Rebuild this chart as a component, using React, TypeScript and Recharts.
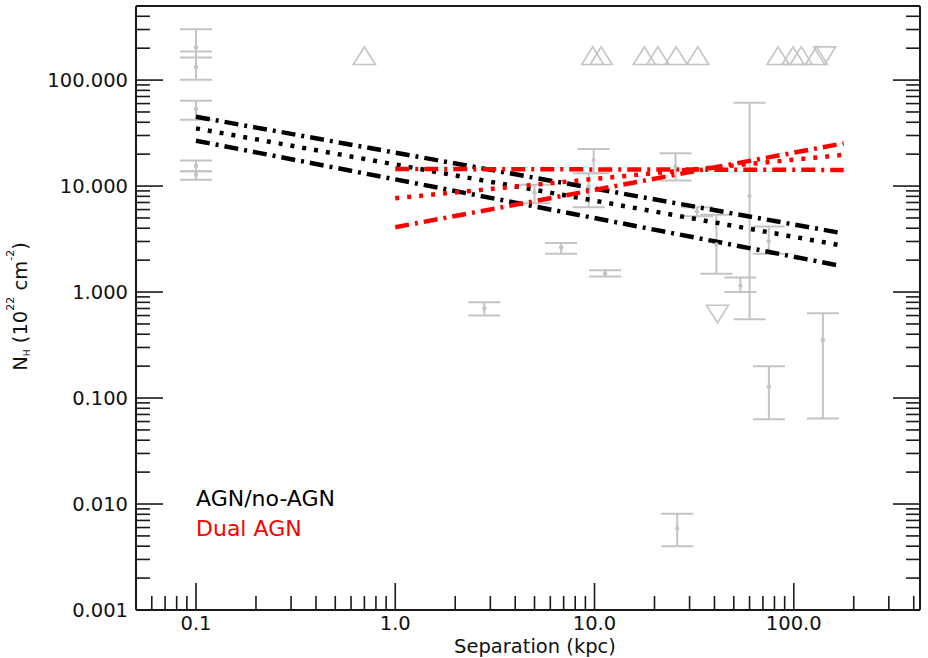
import React from 'react';
import { ComposedChart, XAxis, YAxis, Scatter, Line, ErrorBar } from 'recharts';

const FONT = '"DejaVu Sans", sans-serif';
const GRAY = '#c4c4c4';
const AXIS = '#1a1a1a';

// Measured column densities: separation (kpc), N_H (1e22 cm^-2) and 1-sigma bounds
const detSep = [0.1, 0.1, 0.1, 0.1, 0.1, 2.8, 5.0, 6.8, 9.35, 9.9, 11.3, 25.5, 32.7, 40.9, 54, 60, 74.9, 75, 140, 26];
const detNH = [203, 133, 53.3, 15.5, 12.8, 0.70, 8.75, 2.65, 9.9, 17.6, 1.49, 15.3, 5.75, 2.81, 1.15, 8.08, 3.02, 0.128, 0.351, 0.0059];
const detLo = [163, 100.6, 42.3, 13.8, 11.5, 0.60, 6.9, 2.30, 6.3, 13.2, 1.40, 11.3, 5.2, 1.49, 1.0, 0.555, 2.30, 0.063, 0.064, 0.0040];
const detHi = [302, 186, 63.8, 17.4, 13.8, 0.80, 10.3, 2.90, 13.2, 22.4, 1.61, 20.4, 6.3, 5.35, 1.375, 61.1, 4.16, 0.200, 0.63, 0.0081];

// Lower limits (Compton-thick candidates)
const lowLimSep = [0.70, 9.8, 10.8, 17.8, 20.8, 25.7, 33.0, 83.4, 99.3, 109, 130];
const lowLimNH = [170, 170, 170, 170, 170, 170, 170, 170, 170, 170, 170];

// Upper limits
const upLimSep = [41.4, 143];
const upLimNH = [0.62, 170];

// Power-law fits: best fit and confidence envelope
const agnSep = [0.1, 174];
const agnHigh = [45.1, 3.60];
const agnBest = [35.0, 2.75];
const agnLow = [26.8, 1.76];

const dualSep = [1.0, 178];
const dualEdgeA = [14.5, 14.2];
const dualBest = [7.68, 19.7];
const dualEdgeB = [4.09, 25.3];

// Axis ranges and decade ticks
const xDomain = [0.05, 430];
const yDomain = [0.001, 500];
const xDecades = [0.01, 0.1, 1, 10, 100];
const yDecades = [0.001, 0.01, 0.1, 1, 10, 100];
const mantissas = [1, 2, 3, 4, 5, 6, 7, 8, 9];

const logTicks = (decades: number[], [lo, hi]: number[]) =>
  decades
    .flatMap((d) => mantissas.map((m) => +(m * d).toPrecision(3)))
    .filter((v) => v >= lo - 1e-12 && v <= hi + 1e-12);

const xTicks = logTicks(xDecades, xDomain).filter((v) => v > xDomain[0]);
const yTicks = logTicks(yDecades, yDomain).filter((v) => v < yDomain[1]);

const detData = detSep.map((x, i) => ({ x, y: detNH[i], err: [detNH[i] - detLo[i], detHi[i] - detNH[i]] }));
const lowLimData = lowLimSep.map((x, i) => ({ x, y: lowLimNH[i] }));
const upLimData = upLimSep.map((x, i) => ({ x, y: upLimNH[i] }));
const toLine = (xs: number[], ys: number[]) => xs.map((x, i) => ({ x, y: ys[i] }));

const isMajor = (v: number) => Math.abs(Math.log10(v) - Math.round(Math.log10(v))) < 1e-6;
const MAJ = 27;
const MIN = 14;
const TICK_W = 1.6;
const LABEL_SIZE = 19.5;

const BottomTick = (props: any) => {
  const { x, y, payload } = props;
  const v = payload.value as number;
  const major = isMajor(v);
  return (
    <g>
      <line x1={x} x2={x} y1={y} y2={y - (major ? MAJ : MIN)} stroke={AXIS} strokeWidth={TICK_W} />
      {major && (
        <text x={x} y={y + 20} textAnchor="middle" fontFamily={FONT} fontSize={LABEL_SIZE} fill="#111">
          {v.toFixed(1)}
        </text>
      )}
    </g>
  );
};

const TopTick = (props: any) => {
  const { x, y, payload } = props;
  const major = isMajor(payload.value);
  return <line x1={x} x2={x} y1={y} y2={y + (major ? MAJ : MIN)} stroke={AXIS} strokeWidth={TICK_W} />;
};

const LeftTick = (props: any) => {
  const { x, y, payload } = props;
  const v = payload.value as number;
  const major = isMajor(v);
  return (
    <g>
      <line x1={x} x2={x + (major ? MAJ : MIN)} y1={y} y2={y} stroke={AXIS} strokeWidth={TICK_W} />
      {major && (
        <text x={x - 8} y={y + 7} textAnchor="end" fontFamily={FONT} fontSize={LABEL_SIZE} fill="#111">
          {v.toFixed(3)}
        </text>
      )}
    </g>
  );
};

const RightTick = (props: any) => {
  const { x, y, payload } = props;
  const major = isMajor(payload.value);
  return <line x1={x} x2={x - (major ? MAJ : MIN)} y1={y} y2={y} stroke={AXIS} strokeWidth={TICK_W} />;
};

const Dot = (props: any) => <circle cx={props.cx} cy={props.cy} r={2.2} fill={GRAY} />;

const UpTriangle = (props: any) => {
  const { cx, cy } = props;
  return (
    <path
      d={`M${cx},${cy - 8.8} L${cx + 11},${cy + 8.8} L${cx - 11},${cy + 8.8} Z`}
      fill="none"
      stroke={GRAY}
      strokeWidth={1.6}
    />
  );
};

const DownTriangle = (props: any) => {
  const { cx, cy } = props;
  return (
    <path
      d={`M${cx},${cy + 8.8} L${cx + 11},${cy - 8.8} L${cx - 11},${cy - 8.8} Z`}
      fill="none"
      stroke={GRAY}
      strokeWidth={1.6}
    />
  );
};

const DASH_DOT = '14 6 3 6';
const DOTTED = '4 8';
const FIT_W = 4.5;

export default function App() {
  return (
    <div style={{ position: 'absolute', left: 0, top: 0, width: 928, height: 658, background: '#fff' }}>
      <ComposedChart width={928} height={658} margin={{ top: 5, right: 7, bottom: 0, left: 0 }}>
        <XAxis
          xAxisId="bottom"
          dataKey="x"
          type="number"
          scale="log"
          domain={xDomain}
          allowDataOverflow
          ticks={xTicks}
          interval={0}
          height={48}
          tickSize={0}
          tickMargin={0}
          tickLine={false}
          tick={<BottomTick />}
          axisLine={{ stroke: AXIS, strokeWidth: 2 }}
        />
        <XAxis
          xAxisId="top"
          orientation="top"
          type="number"
          scale="log"
          domain={xDomain}
          allowDataOverflow
          ticks={xTicks}
          interval={0}
          height={1}
          tickSize={0}
          tickMargin={0}
          tickLine={false}
          tick={<TopTick />}
          axisLine={{ stroke: AXIS, strokeWidth: 2 }}
        />
        <YAxis
          yAxisId="left"
          dataKey="y"
          type="number"
          scale="log"
          domain={yDomain}
          allowDataOverflow
          ticks={yTicks}
          interval={0}
          width={136}
          tickSize={0}
          tickMargin={0}
          tickLine={false}
          tick={<LeftTick />}
          axisLine={{ stroke: AXIS, strokeWidth: 2 }}
        />
        <YAxis
          yAxisId="right"
          orientation="right"
          type="number"
          scale="log"
          domain={yDomain}
          allowDataOverflow
          ticks={yTicks}
          interval={0}
          width={1}
          tickSize={0}
          tickMargin={0}
          tickLine={false}
          tick={<RightTick />}
          axisLine={{ stroke: AXIS, strokeWidth: 2 }}
        />

        <Scatter xAxisId="bottom" yAxisId="left" data={detData} shape={<Dot />} isAnimationActive={false}>
          <ErrorBar dataKey="err" direction="y" width={16} stroke={GRAY} strokeWidth={2} isAnimationActive={false} />
        </Scatter>
        <Scatter xAxisId="bottom" yAxisId="left" data={lowLimData} shape={<UpTriangle />} isAnimationActive={false} />
        <Scatter xAxisId="bottom" yAxisId="left" data={upLimData} shape={<DownTriangle />} isAnimationActive={false} />

        <Line xAxisId="bottom" yAxisId="left" data={toLine(agnSep, agnHigh)} dataKey="y" type="linear" stroke="#000" strokeWidth={FIT_W} strokeDasharray={DASH_DOT} dot={false} activeDot={false} isAnimationActive={false} />
        <Line xAxisId="bottom" yAxisId="left" data={toLine(agnSep, agnBest)} dataKey="y" type="linear" stroke="#000" strokeWidth={FIT_W} strokeDasharray={DOTTED} dot={false} activeDot={false} isAnimationActive={false} />
        <Line xAxisId="bottom" yAxisId="left" data={toLine(agnSep, agnLow)} dataKey="y" type="linear" stroke="#000" strokeWidth={FIT_W} strokeDasharray={DASH_DOT} dot={false} activeDot={false} isAnimationActive={false} />

        <Line xAxisId="bottom" yAxisId="left" data={toLine(dualSep, dualEdgeA)} dataKey="y" type="linear" stroke="#ff0000" strokeWidth={FIT_W} strokeDasharray={DASH_DOT} dot={false} activeDot={false} isAnimationActive={false} />
        <Line xAxisId="bottom" yAxisId="left" data={toLine(dualSep, dualBest)} dataKey="y" type="linear" stroke="#ff0000" strokeWidth={FIT_W} strokeDasharray={DOTTED} dot={false} activeDot={false} isAnimationActive={false} />
        <Line xAxisId="bottom" yAxisId="left" data={toLine(dualSep, dualEdgeB)} dataKey="y" type="linear" stroke="#ff0000" strokeWidth={FIT_W} strokeDasharray={DASH_DOT} dot={false} activeDot={false} isAnimationActive={false} />
      </ComposedChart>

      <svg width={928} height={658} style={{ position: 'absolute', left: 0, top: 0, pointerEvents: 'none' }}>
        <text x={535} y={653} textAnchor="middle" fontFamily={FONT} fontSize={LABEL_SIZE} fill="#111">
          Separation (kpc)
        </text>
        <text
          x={27}
          y={306.5}
          transform="rotate(-90 27 306.5)"
          textAnchor="middle"
          fontFamily={FONT}
          fontSize={LABEL_SIZE}
          fill="#111"
        >
          N
          <tspan fontSize={9} dy={2.5}>H</tspan>
          <tspan dy={-2.5}> (10</tspan>
          <tspan fontSize={11} dy={-13}>22</tspan>
          <tspan dy={13}> cm</tspan>
          <tspan fontSize={11} dy={-13}>-2</tspan>
          <tspan dy={13}>)</tspan>
        </text>
        <text x={196} y={505.5} fontFamily={FONT} fontSize={22} fill="#000">
          AGN/no-AGN
        </text>
        <text x={196} y={536} fontFamily={FONT} fontSize={22} fill="#ff0000">
          Dual AGN
        </text>
      </svg>
    </div>
  );
}
